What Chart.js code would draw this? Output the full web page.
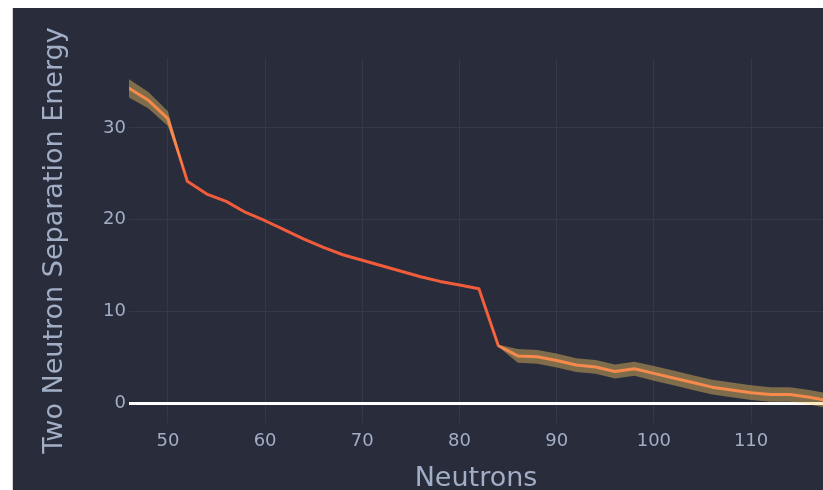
<!DOCTYPE html>
<html>
<head>
<meta charset="utf-8">
<script src="https://cdn.jsdelivr.net/npm/chart.js@4.4.1/dist/chart.umd.min.js"></script>
<style>
  html, body { margin: 0; padding: 0; background: #ffffff; overflow: hidden; }
  #frame { position: absolute; left: 12px; top: 8px; width: 811px; height: 482px;
           border-left: 1px solid #d4d4d4; background: #292c3a; }
  canvas { display: block; }
</style>
</head>
<body>
<div id="frame"><canvas id="chart" width="810" height="482"></canvas></div>
<script>
// Neutron number of each isotope in the chain
const neutrons = [46, 48, 50, 52, 54, 56, 58, 60, 62, 64, 66, 68, 70, 72, 74, 76, 78, 80, 82,
                  84, 86, 88, 90, 92, 94, 96, 98, 100, 102, 104, 106, 108, 110, 112, 114, 116, 118];
// Two-neutron separation energy (MeV)
const s2n = [34.3, 33.0, 31.0, 24.2, 22.8, 22.0, 20.8, 19.9, 18.9, 17.9, 17.0, 16.2, 15.6, 15.0, 14.4, 13.8, 13.3, 12.9, 12.5,
             6.3, 5.2, 5.1, 4.7, 4.2, 4.0, 3.5, 3.8, 3.3, 2.8, 2.3, 1.8, 1.5, 1.2, 1.0, 1.0, 0.7, 0.3];
// Uncertainty on S2n (MeV); zero where the value is measured precisely
const s2nErr = [1.0, 0.9, 0.8, 0, 0, 0, 0, 0, 0, 0, 0, 0, 0, 0, 0, 0, 0, 0, 0,
                0.1, 0.75, 0.75, 0.75, 0.75, 0.75, 0.75, 0.75, 0.8, 0.8, 0.8, 0.8, 0.8, 0.8, 0.8, 0.8, 0.8, 0.8];
// Axis tick values
const xTicks = [50, 60, 70, 80, 90, 100, 110];
const yTicks = [0, 10, 20, 30];

const upper = neutrons.map((n, i) => ({ x: n, y: s2n[i] + s2nErr[i] }));
const lower = neutrons.map((n, i) => ({ x: n, y: s2n[i] - s2nErr[i] }));
const central = neutrons.map((n, i) => ({ x: n, y: s2n[i] }));

const tickColor = '#a1aec6';
const gridColor = '#343848';
const fontFamily = 'DejaVu Sans';

new Chart(document.getElementById('chart'), {
  type: 'line',
  data: {
    datasets: [
      { label: 'upper', data: upper, fill: '+1', backgroundColor: 'rgba(255,205,100,0.4)',
        borderWidth: 0, pointRadius: 0, tension: 0, order: 0 },
      { label: 'lower', data: lower, fill: false, borderWidth: 0, pointRadius: 0, tension: 0, order: 1 },
      { label: 'S2n', data: central, borderColor: '#f05c3c', borderWidth: 3, pointRadius: 0,
        tension: 0, fill: false, borderJoinStyle: 'round', borderCapStyle: 'round', order: 2 }
    ]
  },
  options: {
    responsive: false,
    devicePixelRatio: 1,
    animation: false,
    layout: { padding: { top: 50, right: 0, left: 0, bottom: 0 } },
    plugins: { legend: { display: false }, tooltip: { enabled: false } },
    scales: {
      x: {
        type: 'linear', min: 46, max: 117.4,
        afterBuildTicks: s => { s.ticks = xTicks.map(v => ({ value: v })); },
        afterFit: s => { s.height = 67; },
        grid: { color: gridColor, lineWidth: 1, drawTicks: false },
        border: { display: false },
        ticks: { color: tickColor, padding: 8, font: { family: fontFamily, size: 18 } },
        title: { display: true, text: 'Neutrons', color: tickColor,
                 font: { family: fontFamily, size: 27, lineHeight: 1 }, padding: { top: 0, bottom: -2 } }
      },
      y: {
        type: 'linear', min: -2.1, max: 37.6,
        afterBuildTicks: s => { s.ticks = yTicks.map(v => ({ value: v })); },
        afterFit: s => { s.width = 116; },
        grid: {
          drawTicks: false,
          color: c => (c.tick && c.tick.value === 0) ? '#ffffff' : gridColor,
          lineWidth: c => (c.tick && c.tick.value === 0) ? 3 : 1
        },
        border: { display: false },
        ticks: { color: tickColor, padding: 3, font: { family: fontFamily, size: 18 } },
        title: { display: true, text: 'Two Neutron Separation Energy', color: tickColor,
                 font: { family: fontFamily, size: 27, lineHeight: 1.2 }, padding: { top: 26, bottom: 0 } }
      }
    }
  }
});
</script>
</body>
</html>
